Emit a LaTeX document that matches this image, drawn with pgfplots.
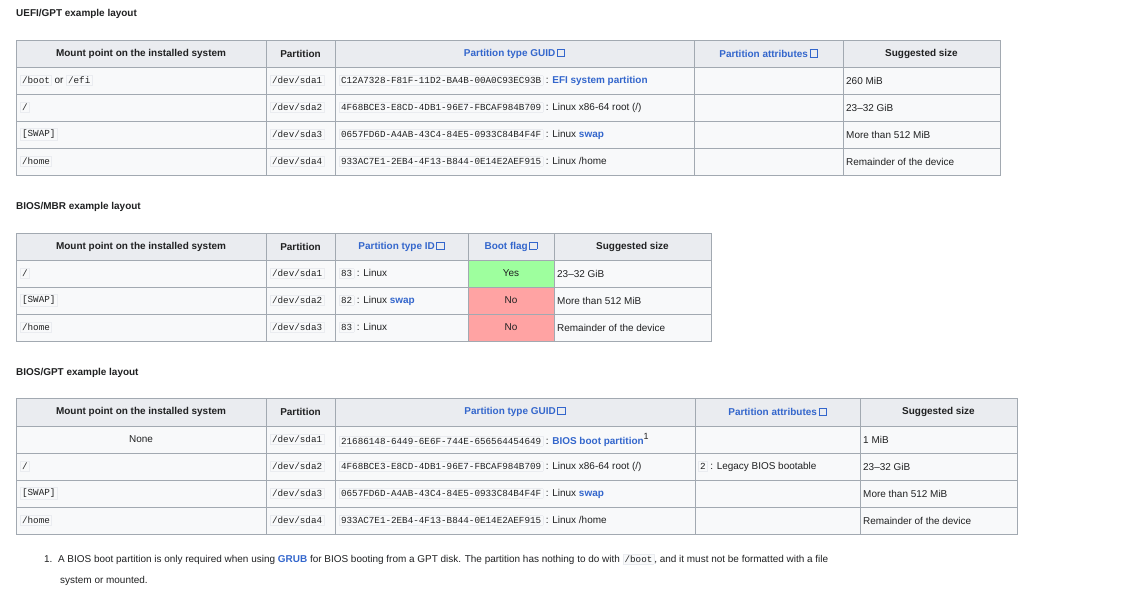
\documentclass[border=0pt]{standalone}
\usepackage{pgfplots}
\pgfplotsset{compat=1.18}
\usepackage{fontspec}
\setmainfont{Liberation Sans}
\newfontfamily\mono{Liberation Mono}
\definecolor{bd}{HTML}{A2A9B1}
\definecolor{hd}{HTML}{EAECF0}
\definecolor{bg}{HTML}{F8F9FA}
\definecolor{lk}{HTML}{3366CC}
\definecolor{yes}{HTML}{9EFF9E}
\definecolor{no}{HTML}{FFA3A3}
\definecolor{none}{HTML}{DDDDDD}
\definecolor{tx}{HTML}{202122}
\newcommand\code[1]{{\setlength\fboxsep{1.5pt}\fcolorbox{hd}{bg}{\fontsize{9.3}{10}\mono #1}}}
\newcommand\lnk[1]{\textcolor{lk}{\textbf{#1}}}
\newcommand\ext{\,\textcolor{lk}{\setlength\fboxsep{0pt}\setlength\fboxrule{0.8pt}\raisebox{0.5pt}{\fbox{\rule{0pt}{6.5pt}\hspace{6.5pt}}}}}
\newcommand\hl[1]{\textcolor{lk}{\textbf{#1}}\ext}
\newcommand\bx[5]{\filldraw[fill=#5,draw=bd,line width=0.8pt] (axis cs:#1,#2) rectangle (axis cs:#3,#4);}
\newcommand\tl[3]{\node[anchor=west,inner sep=0,text=tx] at (axis cs:#1,#2) {#3};}
\newcommand\tc[3]{\node[anchor=center,inner sep=0,text=tx] at (axis cs:#1,#2) {#3};}
\newcommand\rowA[2]{\bx{16}{#1}{266}{#2}{bg}\bx{266}{#1}{335}{#2}{bg}\bx{335}{#1}{694}{#2}{bg}\bx{694}{#1}{843}{#2}{bg}\bx{843}{#1}{1000}{#2}{bg}}
\newcommand\rowB[3]{\bx{16}{#1}{266}{#2}{bg}\bx{266}{#1}{335}{#2}{bg}\bx{335}{#1}{468}{#2}{bg}\bx{468}{#1}{554}{#2}{#3}\bx{554}{#1}{711}{#2}{bg}}
\newcommand\rowC[2]{\bx{16}{#1}{266}{#2}{bg}\bx{266}{#1}{335}{#2}{bg}\bx{335}{#1}{695}{#2}{bg}\bx{695}{#1}{860}{#2}{bg}\bx{860}{#1}{1017}{#2}{bg}}
\begin{document}
\begin{tikzpicture}
\begin{axis}[hide axis, scale only axis, width=1138bp, height=600bp,
  xmin=0,xmax=1138,ymin=0,ymax=600,y dir=reverse,clip=false,
  every node/.append style={font=\fontsize{14}{16}\selectfont}]
\addplot[draw=none] coordinates {(0,0)(1138,600)};
% ---------- Table 1
\tl{16}{14}{\textbf{UEFI/GPT example layout}}
\bx{16}{40}{266}{67}{hd}\bx{266}{40}{335}{67}{hd}\bx{335}{40}{694}{67}{hd}\bx{694}{40}{843}{67}{hd}\bx{843}{40}{1000}{67}{hd}
\tc{141}{53.5}{\textbf{Mount point on the installed system}}
\tc{300.5}{53.5}{\textbf{Partition}}
\tc{514.5}{53.5}{\hl{Partition type GUID}}
\tc{768.5}{53.5}{\hl{Partition attributes}}
\tc{921.5}{53.5}{\textbf{Suggested size}}
\rowA{67}{94}\rowA{94}{121}\rowA{121}{148}\rowA{148}{175}
\tl{20}{80.5}{\code{/boot} or \code{/efi}}
\tl{20}{107.5}{\code{/}}
\tl{20}{134.5}{\code{[SWAP]}}
\tl{20}{161.5}{\code{/home}}
\tl{270}{80.5}{\code{/dev/sda1}}
\tl{270}{107.5}{\code{/dev/sda2}}
\tl{270}{134.5}{\code{/dev/sda3}}
\tl{270}{161.5}{\code{/dev/sda4}}
\tl{339}{80.5}{\code{C12A7328-F81F-11D2-BA4B-00A0C93EC93B} : \lnk{EFI system partition}}
\tl{339}{107.5}{\code{4F68BCE3-E8CD-4DB1-96E7-FBCAF984B709} : Linux x86-64 root (/)}
\tl{339}{134.5}{\code{0657FD6D-A4AB-43C4-84E5-0933C84B4F4F} : Linux \lnk{swap}}
\tl{339}{161.5}{\code{933AC7E1-2EB4-4F13-B844-0E14E2AEF915} : Linux /home}
\tl{846}{80.5}{260 MiB}
\tl{846}{107.5}{23--32 GiB}
\tl{846}{134.5}{More than 512 MiB}
\tl{846}{161.5}{Remainder of the device}
% ---------- Table 2
\tl{16}{207}{\textbf{BIOS/MBR example layout}}
\bx{16}{233}{266}{260}{hd}\bx{266}{233}{335}{260}{hd}\bx{335}{233}{468}{260}{hd}\bx{468}{233}{554}{260}{hd}\bx{554}{233}{711}{260}{hd}
\tc{141}{246.5}{\textbf{Mount point on the installed system}}
\tc{300.5}{246.5}{\textbf{Partition}}
\tc{401.5}{246.5}{\hl{Partition type ID}}
\tc{511}{246.5}{\hl{Boot flag}}
\tc{632.5}{246.5}{\textbf{Suggested size}}
\rowB{260}{287}{yes}\rowB{287}{314}{no}\rowB{314}{341}{no}
\tl{20}{273.5}{\code{/}}
\tl{20}{300.5}{\code{[SWAP]}}
\tl{20}{327.5}{\code{/home}}
\tl{270}{273.5}{\code{/dev/sda1}}
\tl{270}{300.5}{\code{/dev/sda2}}
\tl{270}{327.5}{\code{/dev/sda3}}
\tl{339}{273.5}{\code{83} : Linux}
\tl{339}{300.5}{\code{82} : Linux \lnk{swap}}
\tl{339}{327.5}{\code{83} : Linux}
\tc{511}{273.5}{Yes}
\tc{511}{300.5}{No}
\tc{511}{327.5}{No}
\tl{557}{273.5}{23--32 GiB}
\tl{557}{300.5}{More than 512 MiB}
\tl{557}{327.5}{Remainder of the device}
% ---------- Table 3
\tl{16}{373}{\textbf{BIOS/GPT example layout}}
\bx{16}{398}{266}{426}{hd}\bx{266}{398}{335}{426}{hd}\bx{335}{398}{695}{426}{hd}\bx{695}{398}{860}{426}{hd}\bx{860}{398}{1017}{426}{hd}
\tc{141}{412}{\textbf{Mount point on the installed system}}
\tc{300.5}{412}{\textbf{Partition}}
\tc{515}{412}{\hl{Partition type GUID}}
\tc{777.5}{412}{\hl{Partition attributes}}
\tc{938.5}{412}{\textbf{Suggested size}}
\rowC{426}{453}\rowC{453}{480}\rowC{480}{507}\rowC{507}{534}
\bx{16}{426}{266}{453}{none}
\tc{141}{439.5}{None}
\tl{20}{466.5}{\code{/}}
\tl{20}{493.5}{\code{[SWAP]}}
\tl{20}{520.5}{\code{/home}}
\tl{270}{439.5}{\code{/dev/sda1}}
\tl{270}{466.5}{\code{/dev/sda2}}
\tl{270}{493.5}{\code{/dev/sda3}}
\tl{270}{520.5}{\code{/dev/sda4}}
\tl{339}{439.5}{\code{21686148-6449-6E6F-744E-656564454649} : \lnk{BIOS boot partition}\raisebox{5pt}{\fontsize{9}{10}\selectfont 1}}
\tl{339}{466.5}{\code{4F68BCE3-E8CD-4DB1-96E7-FBCAF984B709} : Linux x86-64 root (/)}
\tl{339}{493.5}{\code{0657FD6D-A4AB-43C4-84E5-0933C84B4F4F} : Linux \lnk{swap}}
\tl{339}{520.5}{\code{933AC7E1-2EB4-4F13-B844-0E14E2AEF915} : Linux /home}
\tl{698}{466.5}{\code{2} : Legacy BIOS bootable}
\tl{863}{439.5}{1 MiB}
\tl{863}{466.5}{23--32 GiB}
\tl{863}{493.5}{More than 512 MiB}
\tl{863}{520.5}{Remainder of the device}
% ---------- Footnote
\tl{44}{559}{1.\ \ A BIOS boot partition is only required when using \lnk{GRUB} for BIOS booting from a GPT disk. The partition has nothing to do with \code{/boot}, and it must not be formatted with a file}
\tl{60}{581}{system or mounted.}
\end{axis}
\end{tikzpicture}
\end{document}
